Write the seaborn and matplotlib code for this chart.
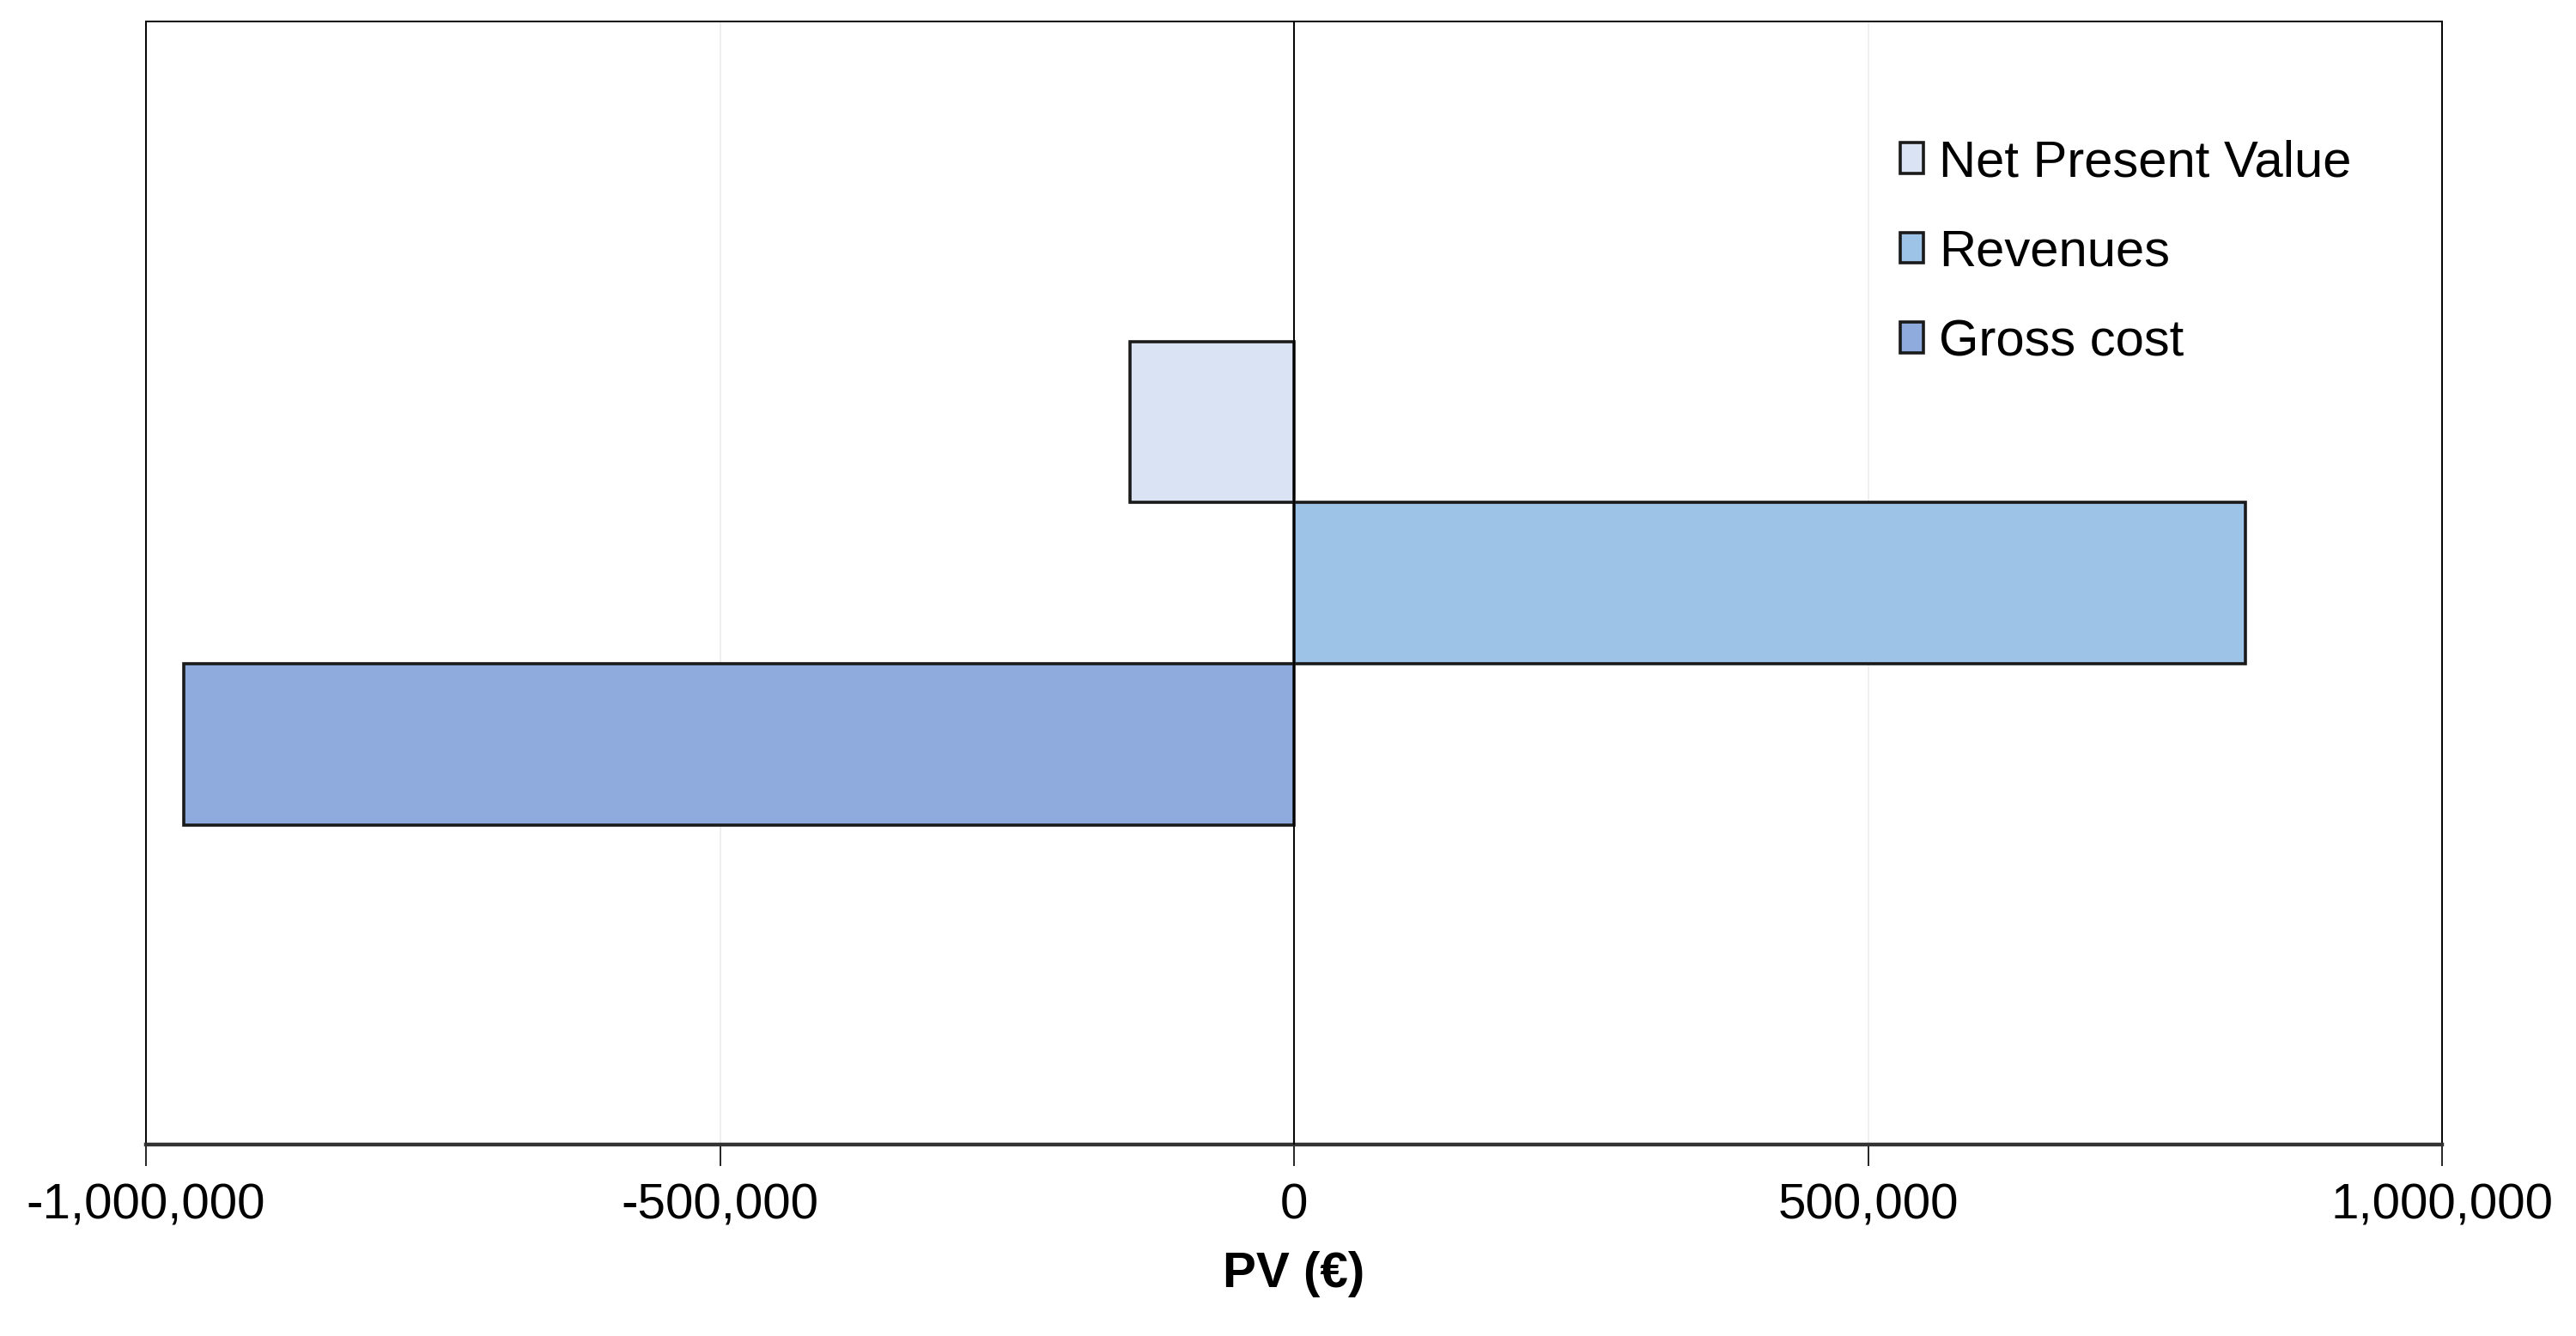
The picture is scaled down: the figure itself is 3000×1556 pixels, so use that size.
import matplotlib
matplotlib.use("Agg")
import matplotlib.pyplot as plt
from matplotlib.ticker import FuncFormatter
import seaborn as sns
import pandas as pd

# ---- data ----
SERIES = ["Net Present Value", "Revenues", "Gross cost"]
PV_VALUES = [-143000, 829000, -967000]
COLORS = ["#DAE3F3", "#9DC3E6", "#8FAADC"]
X_TICKS = [-1000000, -500000, 0, 500000, 1000000]

sns.set_style("white")
plt.rcParams['font.family'] = ['Liberation Sans', 'DejaVu Sans']
plt.rcParams['text.color'] = 'black'
plt.rcParams['axes.labelcolor'] = 'black'
plt.rcParams['xtick.color'] = 'black'


def main():
    df = pd.DataFrame({
        "group": [""] * len(SERIES),
        "series": SERIES,
        "pv": PV_VALUES,
    })

    fig = plt.figure(figsize=(15, 7.78), dpi=200)
    ax = fig.add_axes([0.0567, 0.143, 0.8913, 0.841])

    sns.barplot(
        data=df, x="pv", y="group", hue="series",
        hue_order=SERIES, palette=COLORS, saturation=1,
        orient="h", width=0.43,
        edgecolor="#1a1a1a", linewidth=1.3,
        ax=ax, zorder=2,
    )

    # zero line and faint vertical gridlines
    ax.axvline(0, color="black", lw=0.7, zorder=3)
    for xv in (-500000, 500000):
        ax.axvline(xv, color="#ececec", lw=0.6, zorder=0)

    ax.set_xlim(-1000000, 1000000)
    ax.set_ylim(0.5, -0.5)
    ax.set_xticks(X_TICKS)
    ax.xaxis.set_major_formatter(FuncFormatter(lambda v, p: f"{v:,.0f}"))
    ax.tick_params(axis="x", direction="out", length=9, width=0.6,
                   color="black", labelcolor="black",
                   pad=7, labelsize=21, bottom=True)
    ax.set_yticks([])
    ax.set_ylabel("")
    ax.set_xlabel("PV (€)", fontsize=21, fontweight="bold", labelpad=9,
                  color="black")

    for side in ("left", "right", "top"):
        ax.spines[side].set_color("black")
        ax.spines[side].set_linewidth(0.7)
    ax.spines["bottom"].set_color("#333333")
    ax.spines["bottom"].set_linewidth(1.6)

    leg = ax.legend(
        loc="upper left", bbox_to_anchor=(0.753, 0.918),
        frameon=False, fontsize=21.5, borderpad=0,
        handlelength=0.45, handleheight=0.55, handletextpad=0.3,
        labelspacing=0.83,
    )
    for t in leg.get_texts():
        t.set_color("black")
    for h in leg.legend_handles:
        h.set_edgecolor("#1a1a1a")
        h.set_linewidth(1.3)

    fig.savefig("out.png", dpi=200)


if __name__ == "__main__":
    main()
